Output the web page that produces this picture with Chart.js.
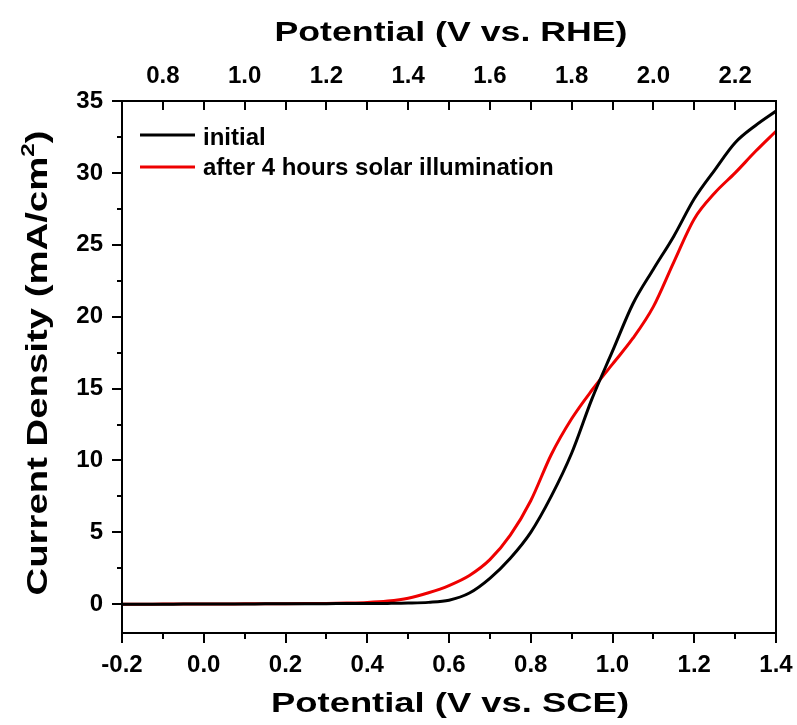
<!DOCTYPE html>
<html>
<head>
<meta charset="utf-8">
<script src="https://cdn.jsdelivr.net/npm/chart.js@4.4.1/dist/chart.umd.min.js"></script>
<style>
  html, body { margin: 0; padding: 0; background: #fff; }
  canvas { display: block; }
</style>
</head>
<body>
<canvas id="lsv" width="797" height="725"></canvas>
<script>
// Datos
const potentialSCE = [-0.2, -0.15, -0.1, -0.05, 0.0, 0.05, 0.1, 0.15, 0.2, 0.25, 0.3, 0.35, 0.4, 0.45, 0.5, 0.55,
  0.6, 0.65, 0.7, 0.75, 0.8, 0.85, 0.9, 0.95, 1.0, 1.05, 1.1, 1.15, 1.2, 1.25, 1.3, 1.35, 1.4];
const currentInitial = [0.0, 0.0, 0.0, 0.01, 0.01, 0.02, 0.02, 0.03, 0.03, 0.04, 0.04, 0.05, 0.05, 0.06, 0.08, 0.13,
  0.28, 0.78, 1.8, 3.2, 5.0, 7.5, 10.5, 14.3, 17.6, 20.9, 23.3, 25.6, 28.2, 30.2, 32.1, 33.3, 34.3];
const currentAfter = [0.0, 0.0, 0.01, 0.01, 0.02, 0.02, 0.03, 0.03, 0.04, 0.05, 0.06, 0.08, 0.12, 0.22, 0.42, 0.8,
  1.3, 2.0, 3.1, 4.8, 7.2, 10.4, 12.9, 14.9, 16.7, 18.5, 20.7, 23.8, 26.8, 28.6, 30.0, 31.5, 32.9];
const seriesLabels = ['initial', 'after 4 hours solar illumination'];
const seriesColors = ['#000000', '#ee0000'];
const xRange = [-0.2, 1.4];      // V vs. SCE
const xTopRange = [0.7, 2.3];    // V vs. RHE
const yRange = [-2, 35];

const FAMILY = "'Liberation Sans', Arial, Helvetica, sans-serif";
const tickFont = { family: FAMILY, size: 24, weight: 'bold' };

const esMayorX = v => Math.round(v * 10) % 2 === 0;
const esMayorY = v => Math.abs(v % 5) < 1e-9;
const etiquetaX = v => esMayorX(v) ? (Math.round(v * 10) / 10).toFixed(1) : '';

function textoEstirado(ctx, txt, x, y, largo) {
  const w = ctx.measureText(txt).width;
  ctx.save();
  ctx.translate(x, y);
  ctx.scale(largo / w, 1);
  ctx.textAlign = 'center';
  ctx.fillText(txt, 0, 0);
  ctx.restore();
}

const marcoEjes = {
  id: 'marcoEjes',
  afterDraw(chart) {
    const { ctx, chartArea: a, scales } = chart;
    ctx.save();
    ctx.strokeStyle = '#000';
    ctx.lineWidth = 2;
    ctx.strokeRect(a.left, a.top, a.right - a.left, a.bottom - a.top);

    ctx.beginPath();
    scales.y.ticks.forEach(t => {
      const py = Math.round(scales.y.getPixelForValue(t.value));
      const len = esMayorY(t.value) ? 10 : 5;
      ctx.moveTo(a.left, py); ctx.lineTo(a.left - len, py);
    });
    scales.x.ticks.forEach(t => {
      const px = Math.round(scales.x.getPixelForValue(t.value));
      const len = esMayorX(t.value) ? 10 : 6;
      ctx.moveTo(px, a.bottom); ctx.lineTo(px, a.bottom + len);
    });
    scales.x2.ticks.forEach(t => {
      const px = Math.round(scales.x2.getPixelForValue(t.value));
      ctx.moveTo(px, a.top); ctx.lineTo(px, a.top + 9);
    });
    ctx.stroke();

    // leyenda
    ctx.lineWidth = 3;
    const filas = [135, 167];
    ctx.font = 'bold 24px ' + FAMILY;
    ctx.fillStyle = '#000';
    ctx.textBaseline = 'alphabetic';
    filas.forEach((yy, i) => {
      ctx.strokeStyle = seriesColors[i];
      ctx.beginPath(); ctx.moveTo(140, yy); ctx.lineTo(195, yy); ctx.stroke();
      ctx.fillText(seriesLabels[i], 203, yy + (i === 0 ? 10 : 8));
    });

    // titulos de ejes
    ctx.font = 'bold 28px ' + FAMILY;
    textoEstirado(ctx, 'Potential (V vs. SCE)', (a.left + a.right) / 2 + 1, 712, 358);
    textoEstirado(ctx, 'Potential (V vs. RHE)', (a.left + a.right) / 2 + 2, 41, 353);

    // eje y, con superindice
    ctx.translate(47, 363);
    ctx.rotate(-Math.PI / 2);
    const p1 = 'Current Density (mA/cm', p2 = '2', p3 = ')';
    ctx.font = 'bold 30px ' + FAMILY;
    const w1 = ctx.measureText(p1).width, w3 = ctx.measureText(p3).width;
    ctx.font = 'bold 19px ' + FAMILY;
    const w2 = ctx.measureText(p2).width;
    const sx = 465 / (w1 + w2 + w3);
    ctx.scale(sx, 1);
    let x0 = -(w1 + w2 + w3) / 2;
    ctx.textAlign = 'left';
    ctx.font = 'bold 30px ' + FAMILY;
    ctx.fillText(p1, x0, 0);
    ctx.font = 'bold 19px ' + FAMILY;
    ctx.fillText(p2, x0 + w1, -13);
    ctx.font = 'bold 30px ' + FAMILY;
    ctx.fillText(p3, x0 + w1 + w2, 0);
    ctx.restore();
  }
};

const puntos = serie => potentialSCE.map((v, i) => ({ x: v, y: serie[i] }));

// la etiqueta "1.4" puede salirse del area, sin empujar el borde derecho
const ajusteHorizontal = alto => s => { s.height = alto; s.paddingRight = 0; s.paddingLeft = 0; };

new Chart(document.getElementById('lsv'), {
  type: 'line',
  data: {
    datasets: [
      { label: seriesLabels[0], data: puntos(currentInitial), borderColor: seriesColors[0], borderWidth: 3,
        pointRadius: 0, cubicInterpolationMode: 'monotone', fill: false },
      { label: seriesLabels[1], data: puntos(currentAfter), borderColor: seriesColors[1], borderWidth: 3,
        pointRadius: 0, cubicInterpolationMode: 'monotone', fill: false }
    ]
  },
  options: {
    responsive: false,
    animation: false,
    devicePixelRatio: 1,
    layout: { padding: { left: 0, right: 21, top: 0, bottom: 0 } },
    plugins: { legend: { display: false }, tooltip: { enabled: false } },
    scales: {
      x: {
        type: 'linear', position: 'bottom', min: xRange[0], max: xRange[1],
        grid: { display: false, drawTicks: false }, border: { display: false },
        ticks: { stepSize: 0.1, autoSkip: false, maxRotation: 0, padding: 18, color: '#000', font: tickFont,
          callback: etiquetaX },
        afterFit: ajusteHorizontal(92)
      },
      x2: {
        type: 'linear', position: 'top', min: xTopRange[0], max: xTopRange[1],
        grid: { display: false, drawTicks: false }, border: { display: false },
        ticks: { stepSize: 0.1, autoSkip: false, maxRotation: 0, padding: 10, color: '#000', font: tickFont,
          callback: etiquetaX },
        afterFit: ajusteHorizontal(101)
      },
      y: {
        min: yRange[0], max: yRange[1],
        grid: { display: false, drawTicks: false }, border: { display: false },
        ticks: { stepSize: 2.5, includeBounds: false, autoSkip: false, padding: 19, color: '#000', font: tickFont,
          callback: v => esMayorY(v) ? String(v) : '' },
        afterFit: s => { s.width = 122; }
      }
    }
  },
  plugins: [marcoEjes]
});
</script>
</body>
</html>
